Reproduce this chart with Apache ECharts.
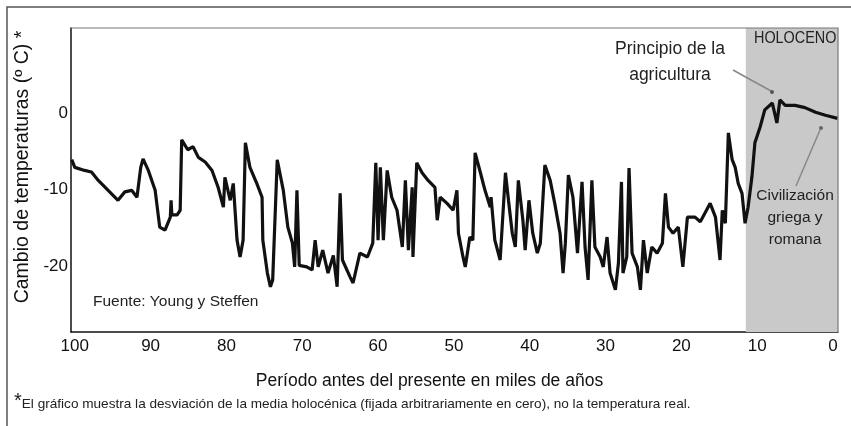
<!DOCTYPE html>
<html>
<head>
<meta charset="utf-8">
<script src="https://cdn.jsdelivr.net/npm/echarts@6/dist/echarts.min.js"></script>
<style>
  html, body { margin: 0; padding: 0; background: #fff; }
  #chart { width: 851px; height: 426px; }
</style>
</head>
<body>
<div id="chart"></div>
<script>
// miles de años antes del presente
const years = [
  100.4, 100.0, 98.7, 97.8, 96.9, 95.6, 94.3, 93.4, 92.5, 91.8, 91.3, 91.0, 90.3, 89.4,
  88.8, 88.1, 87.4, 87.3, 87.2, 86.5, 86.1, 85.9, 85.1, 84.4, 83.7, 82.8, 81.9, 81.1,
  80.4, 80.2, 79.5, 79.1, 78.6, 78.2, 77.8, 77.5, 76.9, 76.0, 75.3, 75.2, 74.6, 74.2,
  73.9, 73.3, 72.5, 71.9, 71.3, 71.0, 70.7, 70.4, 69.4, 68.7, 68.3, 67.9, 67.3, 66.6,
  65.9, 65.4, 65.0, 64.7, 63.7, 63.3, 62.4, 61.4, 60.7, 60.3, 60.0, 59.7, 59.3, 58.8,
  58.2, 57.5, 56.8, 56.4, 56.0, 55.5, 55.4, 54.9, 54.2, 53.4, 52.5, 52.2, 51.8, 50.9,
  50.1, 49.6, 49.4, 48.8, 48.5, 47.9, 47.5, 47.2, 46.5, 45.9, 45.2, 45.1, 44.6, 43.9,
  43.2, 42.8, 42.3, 41.9, 41.5, 40.9, 40.6, 40.1, 39.6, 39.0, 38.6, 38.0, 37.3, 36.7,
  36.0, 35.6, 35.3, 34.9, 34.3, 33.7, 33.1, 32.7, 32.3, 31.8, 31.4, 30.7, 30.3, 29.8,
  29.4, 28.7, 28.3, 27.9, 27.7, 27.2, 26.9, 26.5, 25.8, 25.4, 25.0, 24.5, 23.9, 23.2,
  22.5, 22.1, 21.7, 21.1, 20.4, 19.8, 19.2, 18.2, 17.5, 16.9, 16.2, 15.5, 14.9, 14.6,
  14.2, 13.8, 13.3, 12.9, 12.5, 12.0, 11.6, 11.2, 10.7, 10.3, 9.6, 9.0, 8.0, 7.4,
  7.0, 6.3, 5.0, 3.7, 2.3, 1.0, -0.6
];
// cambio de temperatura (°C)
const temps = [
  -6.1, -7.1, -7.5, -7.7, -8.8, -10.1, -11.4, -10.3, -10.1, -11.0, -7.1, -6.0, -7.5, -10.1,
  -14.9, -15.3, -13.6, -11.4, -13.3, -13.3, -12.7, -3.5, -4.8, -4.4, -5.8, -6.4, -7.5, -9.7,
  -12.3, -8.4, -11.4, -9.2, -16.6, -18.8, -16.6, -3.9, -7.1, -9.2, -11.0, -16.6, -20.9, -22.7,
  -21.8, -6.1, -10.1, -14.9, -17.0, -20.1, -10.1, -19.9, -20.1, -20.5, -16.6, -20.1, -17.9, -20.9,
  -18.6, -22.7, -10.5, -19.2, -21.4, -22.2, -18.3, -18.8, -17.0, -6.5, -16.6, -7.1, -16.6, -7.5,
  -11.0, -12.7, -17.5, -8.8, -17.9, -9.7, -18.8, -6.5, -7.8, -8.8, -9.7, -14.0, -11.0, -11.8,
  -12.7, -10.1, -15.7, -18.8, -20.1, -16.2, -16.6, -5.2, -7.8, -10.1, -12.3, -11.0, -16.6, -19.2,
  -7.8, -11.4, -15.7, -17.5, -8.8, -14.0, -17.9, -11.4, -15.7, -18.3, -17.0, -6.8, -8.8, -11.8,
  -15.7, -20.9, -17.0, -8.1, -11.0, -18.3, -9.0, -17.5, -21.8, -8.8, -17.5, -18.8, -20.1, -16.2,
  -20.9, -23.1, -19.6, -9.0, -20.9, -18.8, -7.2, -18.3, -20.1, -23.1, -16.6, -20.9, -17.5, -18.3,
  -17.0, -10.5, -14.9, -15.7, -14.9, -20.1, -13.6, -13.6, -14.2, -13.1, -11.8, -13.6, -19.2, -12.7,
  -14.4, -2.6, -6.1, -7.1, -9.2, -10.5, -14.4, -12.3, -8.4, -3.9, -1.8, 0.4, 1.3, -1.3,
  1.7, 1.0, 1.0, 0.7, 0.1, -0.3, -0.7
];
const xTicks = [100, 90, 80, 70, 60, 50, 40, 30, 20, 10, 0];
const yTicks = [0, -10, -20];
const holocenoStart = 11.5;

const FONT = "'Liberation Sans Narrow', 'Liberation Sans', sans-serif";

const chart = echarts.init(document.getElementById('chart'));

const points = years.map((y, i) => [y, temps[i]]);

chart.setOption({
  animation: false,
  backgroundColor: '#fff',
  textStyle: { fontFamily: FONT },
  grid: { left: 71, top: 28, right: 13, bottom: 94 },
  xAxis: {
    type: 'value',
    inverse: true,
    min: -0.66,
    max: 100.5,
    axisLine: { show: true, onZero: false, lineStyle: { color: '#111', width: 1.5 } },
    axisTick: { show: false },
    splitLine: { show: false },
    axisLabel: {
      customValues: xTicks,
      color: '#111',
      fontSize: 17,
      fontFamily: FONT,
      margin: 6
    },
    name: 'Período antes del presente en miles de años',
    nameLocation: 'middle',
    nameGap: 40,
    nameTextStyle: { color: '#111', fontSize: 17.5, fontFamily: FONT, padding: [0, 50, 0, 0] }
  },
  yAxis: {
    type: 'value',
    min: -28.6,
    max: 11.1,
    axisLine: { show: true, onZero: false, lineStyle: { color: '#111', width: 1.5 } },
    axisTick: { show: false },
    splitLine: { show: false },
    axisLabel: {
      customValues: yTicks,
      color: '#111',
      fontSize: 17,
      fontFamily: FONT,
      margin: 3
    },
    name: 'Cambio de temperaturas (º C) *',
    nameLocation: 'middle',
    nameRotate: 90,
    nameGap: 37,
    nameTextStyle: { color: '#111', fontSize: 19.5, fontFamily: FONT, padding: [0, 0, 0, 26] }
  },
  series: [{
    type: 'line',
    data: points,
    showSymbol: false,
    lineStyle: { color: '#111', width: 3.2 },
    z: 3,
    markArea: {
      silent: true,
      itemStyle: { color: '#c9c9c9' },
      data: [[{ xAxis: holocenoStart }, { xAxis: -0.66 }]]
    }
  }],
  graphic: [
    // marco exterior
    { type: 'rect', shape: { x: 7, y: 7, width: 870, height: 450 },
      style: { fill: null, stroke: '#555', lineWidth: 1.5 }, silent: true },
    // borde superior y derecho del área de gráfico
    { type: 'polyline', shape: { points: [[71, 28], [838, 28], [838, 332]] },
      style: { fill: null, stroke: '#777', lineWidth: 1.2 }, z: 10, silent: true },
    { type: 'text', x: 754, y: 31, scaleX: 0.9,
      style: { text: 'HOLOCENO', fontSize: 16, fontFamily: FONT, fill: '#222' }, z: 10 },
    { type: 'text', x: 670, y: 62,
      style: { text: 'Principio de la\nagricultura', fontSize: 17.5, lineHeight: 26,
        fontFamily: FONT, fill: '#222', align: 'center', verticalAlign: 'middle' }, z: 10 },
    { type: 'line', shape: { x1: 733, y1: 70, x2: 771, y2: 91 },
      style: { stroke: '#888', lineWidth: 1.5 }, z: 10 },
    { type: 'circle', shape: { cx: 772, cy: 92, r: 2 }, style: { fill: '#555' }, z: 10 },
    { type: 'text', x: 795, y: 218,
      style: { text: 'Civilización\ngriega y\nromana', fontSize: 15.5, lineHeight: 22,
        fontFamily: FONT, fill: '#222', align: 'center', verticalAlign: 'middle' }, z: 10 },
    { type: 'line', shape: { x1: 796, y1: 186, x2: 820, y2: 130 },
      style: { stroke: '#888', lineWidth: 1.5 }, z: 10 },
    { type: 'circle', shape: { cx: 821, cy: 128, r: 2 }, style: { fill: '#666' }, z: 10 },
    { type: 'text', x: 93, y: 302,
      style: { text: 'Fuente: Young y Steffen', fontSize: 15.5, fontFamily: FONT,
        fill: '#222', verticalAlign: 'middle' }, z: 10 },
    { type: 'text', x: 14, y: 404,
      style: {
        text: '{a|*}{b|El gráfico muestra la desviación de la media holocénica (fijada arbitrariamente en cero), no la temperatura real.}',
        verticalAlign: 'middle',
        rich: {
          a: { fontSize: 20, fontFamily: FONT, fill: '#222', verticalAlign: 'top', padding: [0, 0, 6, 0] },
          b: { fontSize: 13.6, fontFamily: FONT, fill: '#222' }
        }
      }, z: 10 }
  ]
});
</script>
</body>
</html>
